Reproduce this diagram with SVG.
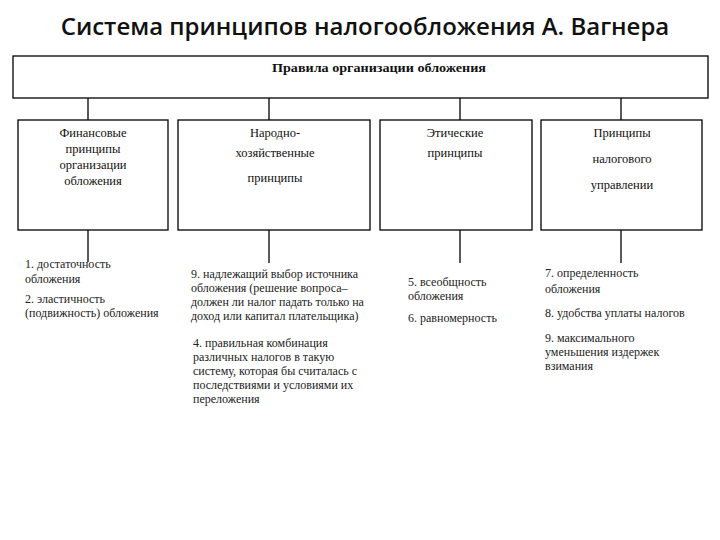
<svg xmlns="http://www.w3.org/2000/svg" width="720" height="540" viewBox="0 0 720 540">
<style>
.title{font-family:"Open Sans","Noto Sans",sans-serif;font-weight:600;font-size:24px;fill:#111}
.box{fill:#fff;stroke:#000;stroke-width:1.3}
.hdr{font-family:"Liberation Serif","Times New Roman",serif;font-size:12.5px;fill:#111;text-anchor:middle}
.top{font-family:"Liberation Serif","Times New Roman",serif;font-size:13px;font-weight:700;fill:#111;text-anchor:middle}
.item{font-family:"Liberation Serif","Times New Roman",serif;font-size:12px;fill:#222}
.conn line{stroke:#000;stroke-width:1.3}
</style>
<rect width="720" height="540" fill="#fff"/>
<text class="title" x="365" y="35" text-anchor="middle">Система принципов налогообложения А. Вагнера</text>

<g id="root">
<rect class="box" x="13" y="56" width="695" height="42"/>
<text class="top" x="379" y="72" textLength="214" lengthAdjust="spacingAndGlyphs">Правила организации обложения</text>
</g>

<g class="conn" id="connectors">
<line x1="88" y1="98" x2="88" y2="120"/>
<line x1="269" y1="98" x2="269" y2="120"/>
<line x1="460" y1="98" x2="460" y2="120"/>
<line x1="621" y1="98" x2="621" y2="120"/>
<line x1="88" y1="230" x2="88" y2="262"/>
<line x1="269" y1="230" x2="269" y2="263"/>
<line x1="460" y1="230" x2="460" y2="263"/>
<line x1="621" y1="230" x2="621" y2="263"/>
</g>

<g id="fin">
<rect class="box" x="18" y="120" width="150" height="110"/>
<text class="hdr" x="93" y="137">Финансовые</text>
<text class="hdr" x="93" y="153">принципы</text>
<text class="hdr" x="93" y="169">организации</text>
<text class="hdr" x="93" y="185">обложения</text>
</g>

<g id="econ">
<rect class="box" x="178" y="120" width="192" height="110"/>
<text class="hdr" x="275" y="137">Народно-</text>
<text class="hdr" x="275" y="157">хозяйственные</text>
<text class="hdr" x="275" y="182">принципы</text>
</g>

<g id="ethic">
<rect class="box" x="380" y="120" width="152" height="110"/>
<text class="hdr" x="455" y="137">Этические</text>
<text class="hdr" x="455" y="157">принципы</text>
</g>

<g id="admin">
<rect class="box" x="541" y="120" width="161" height="110"/>
<text class="hdr" x="622" y="137">Принципы</text>
<text class="hdr" x="622" y="163">налогового</text>
<text class="hdr" x="622" y="189">управлении</text>
</g>

<g id="items-fin">
<text class="item" x="25" y="268">1. достаточность</text>
<text class="item" x="25" y="283">обложения</text>
<text class="item" x="25" y="303">2. эластичность</text>
<text class="item" x="25" y="317">(подвижность) обложения</text>
</g>

<g id="items-econ">
<text class="item" x="191" y="278">9. надлежащий выбор источника</text>
<text class="item" x="191" y="292">обложения (решение вопроса–</text>
<text class="item" x="191" y="306">должен ли налог падать только на</text>
<text class="item" x="191" y="320">доход или капитал плательщика)</text>
<text class="item" x="193" y="347">4. правильная комбинация</text>
<text class="item" x="193" y="361">различных налогов в такую</text>
<text class="item" x="193" y="375">систему, которая бы считалась с</text>
<text class="item" x="193" y="389">последствиями и условиями их</text>
<text class="item" x="193" y="403">переложения</text>
</g>

<g id="items-ethic">
<text class="item" x="408" y="286">5. всеобщность</text>
<text class="item" x="408" y="300">обложения</text>
<text class="item" x="408" y="322">6. равномерность</text>
</g>

<g id="items-admin">
<text class="item" x="545" y="277">7. определенность</text>
<text class="item" x="545" y="293">обложения</text>
<text class="item" x="545" y="317">8. удобства уплаты налогов</text>
<text class="item" x="545" y="342">9. максимального</text>
<text class="item" x="545" y="356">уменьшения издержек</text>
<text class="item" x="545" y="370">взимания</text>
</g>
</svg>
